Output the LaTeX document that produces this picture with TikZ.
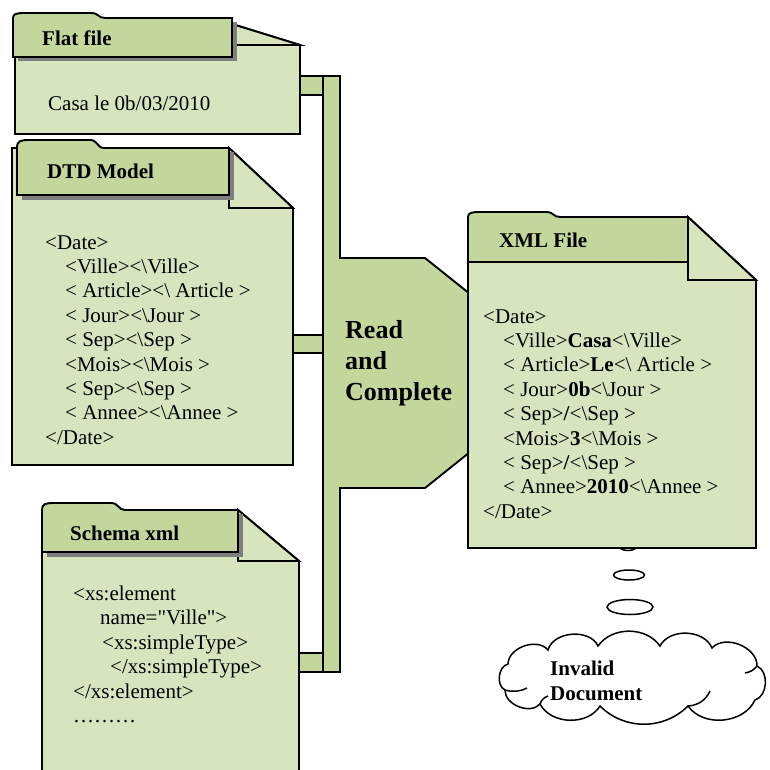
\documentclass[tikz,border=0pt]{standalone}
\usepackage{fontspec}
\setmainfont{Liberation Serif}
\definecolor{bodyc}{HTML}{D7E4BD}
\definecolor{tabc}{HTML}{C3D69B}
\definecolor{shadowc}{HTML}{7F7F7F}
% #1 TL, #2 T, #3 bump top, #4 bump end, #5 TR, #6 TB
\newcommand\doctab[6]{%
  \draw[tabbox] (#1,#6) -- (#1,#2) .. controls (#1,{#3+1}) and ({#1+3},#3) .. ({#1+12},#3)
    -- ({#4-14},#3) .. controls ({#4-6},#3) and ({#4-7},#2) .. (#4,#2) -- (#5,#2) -- (#5,#6) -- cycle;}
\begin{document}
\begin{tikzpicture}[x=1pt,y=-1pt,
  outline/.style={draw=black, line width=1.9pt, line join=miter},
  docbody/.style={outline, fill=bodyc},
  tabbox/.style={outline, fill=tabc},
  shadowbox/.style={fill=shadowc},
  bubble/.style={draw=black, line width=1.5pt, fill=white},
  txt/.style={inner sep=0pt, anchor=base west, font=\fontsize{21}{24}\selectfont},
  ttl/.style={inner sep=0pt, anchor=base west, font=\fontsize{21}{24}\selectfont\bfseries},
  big/.style={inner sep=0pt, anchor=base west, font=\fontsize{26}{31}\selectfont\bfseries}]
\useasboundingbox (0,0) rectangle (770,769);
\clip (0,0) rectangle (770,769);

% connectors
\draw[tabbox] (296,76) rectangle (323,95);
\draw[tabbox] (289,335) rectangle (323,353);
\draw[tabbox] (295,653) rectangle (323,672);
% central bar + read and complete
\draw[tabbox] (323,76) -- (340,76) -- (340,258) -- (425,258) -- (470,294) -- (470,452)
  -- (425,488) -- (340,488) -- (340,672) -- (323,672) -- cycle;

% Flat file
\draw[docbody] (15,24) -- (232,24) -- (300,45) -- (300,134) -- (15,134) -- cycle;
\draw[docbody] (232,24) -- (300,45) -- (232,45) -- cycle;
\fill[shadowbox] (18,22) rectangle (237,61);
\doctab{13}{18}{13}{105}{232}{57}
\node[ttl] (flatt) at (42,45) {Flat file};
\node[txt] (flat1) at (48,110) {Casa le 0b/03/2010};

% DTD model
\draw[docbody] (12,148) -- (229,148) -- (293,208) -- (293,465) -- (12,465) -- cycle;
\draw[docbody] (229,148) -- (293,208) -- (229,208) -- cycle;
\fill[shadowbox] (22,152) rectangle (234,200);
\doctab{17}{148}{140}{104}{229}{195}
\node[ttl] (dtdt) at (47,178) {DTD Model};
\node[txt] (dtd1) at (45,249) {<Date>};
\node[txt] (dtd2) at (65,273.4) {<Ville><\textbackslash Ville>};
\node[txt] (dtd3) at (65,297.8) {< Article><\textbackslash\ Article >};
\node[txt] (dtd4) at (65,322.2) {< Jour><\textbackslash Jour >};
\node[txt] (dtd5) at (65,346.6) {< Sep><\textbackslash Sep >};
\node[txt] (dtd6) at (65,371) {<Mois><\textbackslash Mois >};
\node[txt] (dtd7) at (65,395.4) {< Sep><\textbackslash Sep >};
\node[txt] (dtd8) at (65,419.8) {< Annee><\textbackslash Annee >};
\node[txt] (dtd9) at (45,444.2) {</Date>};

% Schema xml
\draw[docbody] (42,510) -- (238,510) -- (299,561) -- (299,800) -- (42,800) -- cycle;
\draw[docbody] (238,510) -- (299,561) -- (238,561) -- cycle;
\fill[shadowbox] (47,514) rectangle (243,557);
\doctab{42}{510}{503}{125}{238}{552}
\node[ttl] (scht) at (70,540) {Schema xml};
\node[txt] (sch1) at (73,600) {<xs:element};
\node[txt] (sch2) at (100,624.5) {name=\textquotedbl Ville\textquotedbl>};
\node[txt] (sch3) at (102,649) {<xs:simpleType>};
\node[txt] (sch4) at (110,673.5) {</xs:simpleType>};
\node[txt] (sch5) at (73,698) {</xs:element>};
\node[txt] (sch6) at (73,722.5) {………};

% Read and complete
\node[big] (rc1) at (345,338) {Read};
\node[big] (rc2) at (345,369) {and};
\node[big] (rc3) at (345,400) {Complete};

% thought bubbles
\draw[bubble] (628,546) ellipse [x radius=9, y radius=4.5];

% XML file
\draw[docbody] (468,217) -- (688,217) -- (756,280) -- (756,548) -- (468,548) -- cycle;
\draw[docbody] (688,217) -- (756,280) -- (688,280) -- cycle;
\doctab{468}{217}{212}{560}{688}{262}
\node[ttl] (xmlt) at (499,247) {XML File};
\node[txt] (xml1) at (483,323) {<Date>};
\node[txt] (xml2) at (503,347.4) {<Ville>\textbf{Casa}<\textbackslash Ville>};
\node[txt] (xml3) at (503,371.8) {< Article>\textbf{Le}<\textbackslash\ Article >};
\node[txt] (xml4) at (503,396.2) {< Jour>\textbf{0b}<\textbackslash Jour >};
\node[txt] (xml5) at (503,420.6) {< Sep>\textbf{/}<\textbackslash Sep >};
\node[txt] (xml6) at (503,445) {<Mois>\textbf{3}<\textbackslash Mois >};
\node[txt] (xml7) at (503,469.4) {< Sep>\textbf{/}<\textbackslash Sep >};
\node[txt] (xml8) at (503,493.8) {< Annee>\textbf{2010}<\textbackslash Annee >};
\node[txt] (xml9) at (483,518.2) {</Date>};

\draw[bubble] (629,575) ellipse [x radius=15.5, y radius=5];
\draw[bubble] (630,607) ellipse [x radius=23, y radius=7.5];

% cloud
\draw[bubble] (508,664) to[bend left=70] (548,650) to[bend left=70] (598,646)
  to[bend left=55] (660,646) to[bend left=65] (712,648) to[bend left=70] (757,666)
  to[bend left=70] (755,700) to[bend left=60] (688,706) to[bend left=45] (600,706)
  to[bend left=60] (540,704) to[bend left=70] (505,690) to[bend left=70] (508,664) -- cycle;
\draw[line width=1.5pt] (505,690) to[bend right=20] (527,688);
\draw[line width=1.5pt] (540,704) to[bend left=25] (548,696);
\draw[line width=1.5pt] (688,706) to[bend right=30] (710,691);
\draw[line width=1.5pt] (757,666) to[bend left=20] (745,673);
\node[ttl] (inv1) at (550,675) {Invalid};
\node[ttl] (inv2) at (550,700) {Document};
\end{tikzpicture}
\end{document}
